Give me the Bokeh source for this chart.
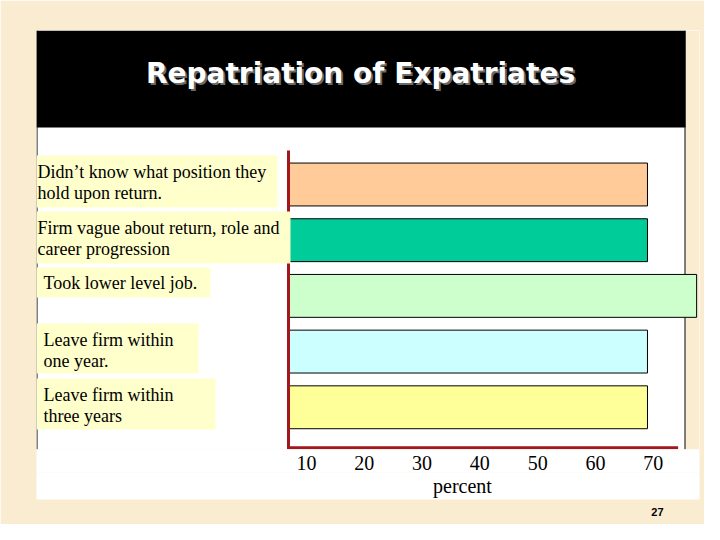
from bokeh.plotting import figure
from bokeh.models import Range1d, FixedTicker, Title, LinearAxis
from bokeh.core.properties import value
from bokeh.embed import file_html
from bokeh.resources import INLINE

# data
categories = [
    "Didn\u2019t know what position they\nhold upon return.",
    "Firm vague about return,  role  and\ncareer progression",
    "Took lower level job.",
    "Leave firm within\none year.",
    "Leave firm within\nthree years",
]
values = [69, 69, 77.5, 69, 69]
bar_colors = ["#FFCC99", "#00CC99", "#CCFFCC", "#CCFFFF", "#FFFF99"]
ticks = [10, 20, 30, 40, 50, 60, 70]
title = "Repatriation of Expatriates"
axis_title = "percent"
axis_title_at = 37  # the slide puts "percent" under 37 %, not mid-frame
page_number = "27"

AXIS_ORIGIN = 6.9   # bars / red axis start here
AXIS_END = 74.3     # red x axis line stops here

BEIGE = "#F9ECD0"
RED = "#A3161B"
SERIF = "Liberation Serif"

# the plot frame is the white slide panel (slide pixels 36..699 x 30..449)
FL, FR, FT, FB = 36, 699, 30, 449
W, H = 704, 524

p = figure(width=W, height=H, output_backend="svg", toolbar_location=None,
           title=None,
           x_range=Range1d(-36.7, 78.0), y_range=Range1d(4.758, -2.765),
           min_border_left=FL, min_border_right=W - FR,
           min_border_top=FT, min_border_bottom=H - FB)
p.border_fill_color = BEIGE
p.background_fill_color = "white"
p.outline_line_color = None
p.grid.visible = False
p.yaxis.visible = False

# slide-pixel coordinates for the decoration inside the frame
p.extra_x_ranges = {"px": Range1d(FL, FR)}
p.extra_y_ranges = {"px": Range1d(FB, FT)}
PX = dict(x_range_name="px", y_range_name="px")

# beige strip right of the panel, panel borders, black title band
p.quad(left=685, right=FR, top=FT, bottom=FB, fill_color=BEIGE, line_color=None, **PX)
p.segment(x0=[684.5, 36.5], y0=[FT, FT], x1=[684.5, 36.5], y1=[FB, FB],
          line_color="black", line_width=1, **PX)
p.quad(left=FL, right=685, top=FT, bottom=127, fill_color="black", line_color=None, **PX)
for dx, col in ((2, "#6a6a6a"), (0, "white")):
    p.text(x=[360 + dx], y=[73 + dx], text=[title], text_font=value("DejaVu Sans"),
           text_font_style="bold", text_font_size="28px", text_color=col,
           text_align="center", text_baseline="alphabetic", **PX)

# bars
positions = list(range(len(categories)))
p.hbar(y=positions, left=AXIS_ORIGIN, right=values, height=0.77,
       fill_color=bar_colors, line_color="black", line_width=1)

# red L-shaped axis
p.line(x=[AXIS_ORIGIN, AXIS_ORIGIN, AXIS_END], y=[-0.61, 4.727, 4.727],
       line_color=RED, line_width=3, line_join="miter")

# category text boxes (slide px: left, top, right, bottom, text x, text top)
boxes = [
    (36, 155, 277, 207, 37, 161),
    (36, 211, 290, 263, 37, 217),
    (36, 267, 210, 297, 43, 272),
    (36, 323, 198, 373, 43, 329),
    (36, 378, 215, 429, 43, 384),
]
p.quad(left=[b[0] for b in boxes], top=[b[1] for b in boxes],
       right=[b[2] for b in boxes], bottom=[b[3] for b in boxes],
       fill_color="#FFFFCC", line_color=None, **PX)
p.text(x=[b[4] for b in boxes], y=[b[5] for b in boxes], text=categories,
       text_font=value(SERIF), text_font_size="18px", text_color="black",
       text_align="left", text_baseline="top", text_line_height=1.08, **PX)


def plain_axis(axis, standoff):
    axis.axis_line_color = None
    axis.major_tick_line_color = None
    axis.minor_tick_line_color = None
    axis.major_tick_out = 0
    axis.major_tick_in = 0
    axis.major_label_text_font = SERIF
    axis.major_label_text_font_size = "20px"
    axis.major_label_text_color = "black"
    axis.major_label_standoff = standoff
    axis.background_fill_color = "white"


# x axis: serif tick labels under the red line
xa = p.xaxis[0]
xa.ticker = FixedTicker(ticks=ticks)
plain_axis(xa, 6)

# "percent" sits off-centre on the slide, so it is a second axis row
xt = LinearAxis(ticker=FixedTicker(ticks=[axis_title_at]),
                major_label_overrides={axis_title_at: axis_title})
plain_axis(xt, 2)
p.add_layout(xt, "below")

p.add_layout(Title(text=page_number, align="right", offset=36,
                   text_font="Liberation Sans", text_font_size="11px",
                   text_font_style="bold", text_color="black", standoff=13), "below")

open("out.html", "w").write(file_html(p, INLINE))
